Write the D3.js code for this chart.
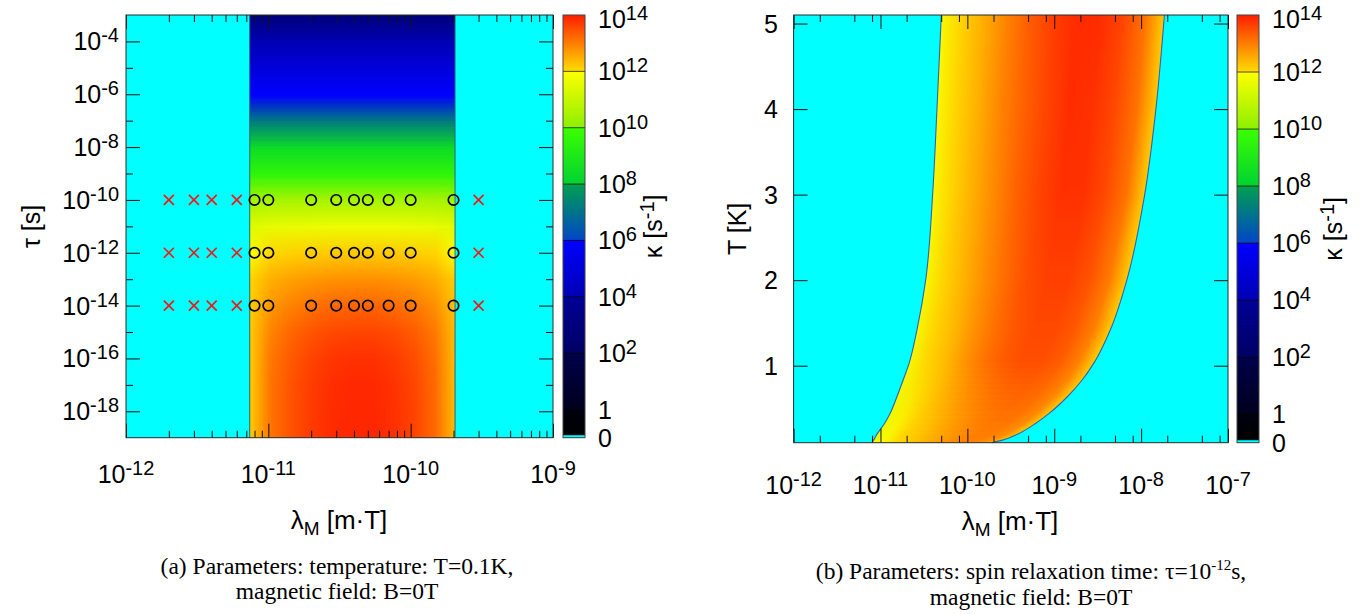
<!DOCTYPE html>
<html>
<head>
<meta charset="UTF-8">
<script src="https://cdn.jsdelivr.net/npm/d3@7/dist/d3.min.js"></script>
<style>
  body { margin: 0; background: #ffffff; }
  text { font-family: "Liberation Sans", Arial, sans-serif; fill: #000; }
  text.cap { font-family: "Liberation Serif", "Times New Roman", serif; }
</style>
</head>
<body>
<svg id="fig" width="1369" height="614"></svg>
<script>
// ---------- panel (a): T = 0.1 K, B = 0 T ----------
// rows: tau = 10^tauExpA (top to bottom), cols: position across the non-zero band (log lambda)
const tauExpA = [-3, -4, -5, -6, -7, -8, -9, -10, -11, -12, -13, -14, -15, -16, -17, -18, -19];
const bandColsA = [0, 0.1, 0.2, 0.3, 0.4, 0.5, 0.6, 0.7, 0.8, 0.9, 1];
const logKappaA = [
  [3.0, 3.0, 3.0, 3.0, 3.0, 3.0, 3.0, 3.0, 3.0, 3.0, 3.0],
  [4.0, 4.0, 4.0, 4.0, 4.0, 4.0, 4.0, 4.0, 4.0, 4.0, 4.0],
  [5.05, 5.05, 5.05, 5.05, 5.05, 5.05, 5.05, 5.05, 5.05, 5.05, 5.05],
  [5.95, 5.95, 5.95, 5.95, 5.95, 5.95, 5.95, 5.95, 5.95, 5.95, 5.95],
  [7.2, 7.2, 7.2, 7.2, 7.2, 7.2, 7.2, 7.2, 7.2, 7.2, 7.2],
  [8.45, 8.45, 8.45, 8.45, 8.45, 8.45, 8.45, 8.45, 8.45, 8.45, 8.45],
  [9.6, 9.6, 9.6, 9.6, 9.6, 9.6, 9.6, 9.6, 9.6, 9.6, 9.6],
  [10.45, 10.5, 10.5, 10.5, 10.5, 10.5, 10.5, 10.5, 10.5, 10.5, 10.45],
  [11.45, 11.6, 11.65, 11.68, 11.7, 11.7, 11.7, 11.7, 11.67, 11.6, 11.5],
  [11.9, 12.06, 12.12, 12.16, 12.19, 12.2, 12.2, 12.18, 12.15, 12.08, 11.95],
  [12.1, 12.47, 12.62, 12.72, 12.78, 12.8, 12.8, 12.76, 12.67, 12.51, 12.15],
  [12.15, 12.73, 12.96, 13.12, 13.22, 13.25, 13.25, 13.18, 13.05, 12.8, 12.25],
  [12.2, 12.94, 13.24, 13.43, 13.56, 13.6, 13.6, 13.52, 13.35, 13.03, 12.3],
  [12.2, 13.05, 13.38, 13.61, 13.75, 13.8, 13.8, 13.7, 13.51, 13.14, 12.3],
  [12.2, 13.09, 13.44, 13.68, 13.83, 13.88, 13.88, 13.78, 13.58, 13.19, 12.3],
  [12.2, 13.1, 13.45, 13.7, 13.85, 13.9, 13.9, 13.8, 13.6, 13.2, 12.3],
  [12.2, 13.1, 13.45, 13.7, 13.85, 13.9, 13.9, 13.8, 13.6, 13.2, 12.3]
];
const bandEdgesA = [7.4e-12, 2.05e-10];       // kappa = 0 outside
const markerTauA = [1e-10, 1e-12, 1e-14];
const crossLamA = [2e-12, 3e-12, 4e-12, 6e-12, 3e-10];
const circleLamA = [8e-12, 1e-11, 2e-11, 3e-11, 4e-11, 5e-11, 7e-11, 1e-10, 2e-10];
const xTicksA = [-12, -11, -10, -9];
const xMinorMultA = [2, 3, 4, 5, 6, 7, 8, 9];
const yTicksA = [-4, -6, -8, -10, -12, -14, -16, -18];
const yMinorA = [-5, -7, -9, -11, -13, -15, -17];

// ---------- panel (b): tau = 1e-12 s, B = 0 T ----------
// band edges (log10 lambda) against temperature
const tempEdgeB = [0.1, 0.13, 0.2, 0.33, 0.44, 0.64, 0.83, 1.03, 1.42, 2, 3, 4, 5.1];
const loEdgeB = [-11.10, -11.08, -11.04, -10.95, -10.89, -10.81, -10.74, -10.67, -10.58, -10.48, -10.40, -10.35, -10.30];
const hiEdgeB = [-9.72, -9.596, -9.423, -9.208, -9.062, -8.846, -8.681, -8.544, -8.354, -8.165, -7.959, -7.83, -7.732];
// rows: temperature (top to bottom), cols: position across the band
const tempRowsB = [5.1, 4.1, 3.1, 2.1, 1.1, 0.1];
const bandColsB = [0, 0.1, 0.2, 0.3, 0.4, 0.5, 0.6, 0.7, 0.8, 0.9, 1];
const logKappaB = [
  [11.9, 12.1, 12.5, 12.95, 13.35, 13.65, 13.85, 13.85, 13.6, 13.1, 12.0],
  [11.9, 12.1, 12.5, 12.95, 13.3, 13.6, 13.85, 13.8, 13.55, 13.1, 12.0],
  [11.9, 12.1, 12.5, 12.9, 13.3, 13.6, 13.8, 13.8, 13.55, 13.1, 12.0],
  [11.85, 12.1, 12.45, 12.85, 13.2, 13.5, 13.65, 13.65, 13.45, 13.0, 12.0],
  [11.8, 12.05, 12.35, 12.75, 13.1, 13.35, 13.5, 13.5, 13.35, 12.95, 12.0],
  [11.6, 11.9, 12.0, 12.15, 12.35, 12.55, 12.75, 12.9, 12.95, 12.8, 12.1]
];
const xTicksB = [-12, -11, -10, -9, -8, -7];
const xMinorMultB = [2, 5, 8];
const yTicksB = [1, 2, 3, 4, 5];

// ---------- colour bar (log10 kappa, -1 stands for the "0" end) ----------
const cbLo = [-1, 0, 2, 4, 6, 8, 10, 12];
const cbHi = [0, 2, 4, 6, 8, 10, 12, 14];
const cbColLo = ["#000000", "#00001e", "#000064", "#0000b4", "#0046c8", "#00d232", "#8cf000", "#ffdc00"];
const cbColHi = ["#000010", "#00004b", "#000096", "#0000ff", "#00a050", "#3cff00", "#ffff00", "#ff1e00"];
const cbTicks = [-1, 0, 2, 4, 6, 8, 10, 12, 14];

const FS = 25, SUP = 20;

const svg = d3.select("#fig");
const defs = svg.append("defs");

function kColor(v) {
  let i = d3.bisectRight(cbLo, v) - 1;
  i = Math.max(0, Math.min(cbLo.length - 1, i));
  const t = Math.max(0, Math.min(1, (v - cbLo[i]) / (cbHi[i] - cbLo[i])));
  return d3.interpolateRgb(cbColLo[i], cbColHi[i])(t);
}

// grid -> canvas, one pixel per value, then scaled with smoothing so nodes sit on the box corners
function smoothCanvas(grid, w, h) {
  const nr = grid.length, nc = grid[0].length;
  const src = document.createElement("canvas");
  src.width = nc; src.height = nr;
  const sctx = src.getContext("2d");
  grid.forEach((row, r) => row.forEach((v, k) => {
    sctx.fillStyle = kColor(v);
    sctx.fillRect(k, r, 1, 1);
  }));
  const c = document.createElement("canvas");
  c.width = w; c.height = h;
  const ctx = c.getContext("2d");
  ctx.imageSmoothingEnabled = true;
  const cw = w / (nc - 1), rh = h / (nr - 1);
  ctx.drawImage(src, -cw / 2, -rh / 2, nc * cw, nr * rh);
  return c;
}

function powLabel(g, x, y, e, anchor) {
  const t = g.append("text").attr("x", x).attr("y", y).attr("text-anchor", anchor).attr("font-size", FS);
  if (e === -1) t.text("0");
  else if (e === 0) t.text("1");
  else {
    t.append("tspan").text("10");
    t.append("tspan").attr("dy", -8).attr("font-size", SUP).text(e);
  }
  return t;
}

function tickSet(g, scale, orient, pos, vals, len) {
  const mk = {bottom: d3.axisBottom, top: d3.axisTop, left: d3.axisLeft, right: d3.axisRight}[orient];
  const ax = mk(scale).tickValues(vals).tickSize(-len).tickFormat("");
  const tr = (orient === "bottom" || orient === "top") ? `translate(0,${pos})` : `translate(${pos},0)`;
  const gg = g.append("g").attr("transform", tr).call(ax);
  gg.select(".domain").remove();
  gg.selectAll("line").attr("stroke", "#111").attr("stroke-width", 1);
}

// colour bar gradient
const grad = defs.append("linearGradient").attr("id", "cbGrad")
  .attr("x1", 0).attr("y1", 1).attr("x2", 0).attr("y2", 0);
cbLo.forEach((lo, i) => {
  grad.append("stop").attr("offset", (lo + 1) / 15).attr("stop-color", cbColLo[i]);
  grad.append("stop").attr("offset", (cbHi[i] + 1) / 15).attr("stop-color", cbColHi[i]);
});

function colourBar(x, top, bottom, labelX, titleX) {
  const g = svg.append("g");
  const cb = d3.scaleLinear().domain([-1, 14]).range([bottom, top]);
  g.append("rect").attr("x", x).attr("y", top).attr("width", 22).attr("height", bottom - top)
    .attr("fill", "url(#cbGrad)");
  g.append("rect").attr("x", x).attr("y", cb(-0.9)).attr("width", 22).attr("height", cb(-1) - cb(-0.9))
    .attr("fill", "#00ffff");
  [-0.9].concat(cbLo.slice(1)).forEach(v => {
    g.append("line").attr("x1", x).attr("x2", x + 22).attr("y1", cb(v)).attr("y2", cb(v))
      .attr("stroke", "#000").attr("stroke-opacity", 0.7);
  });
  g.append("rect").attr("x", x).attr("y", top).attr("width", 22).attr("height", bottom - top)
    .attr("fill", "none").attr("stroke", "#444");
  cbTicks.forEach(e => powLabel(g, labelX, Math.max(cb(e) + 9, 28), e, "start"));
  const t = g.append("text").attr("transform", `translate(${titleX},${(top + bottom) / 2}) rotate(-90)`)
    .attr("text-anchor", "middle").attr("font-size", 25);
  t.append("tspan").text("\u03ba [s");
  t.append("tspan").attr("dy", -8).attr("font-size", SUP).text("-1");
  t.append("tspan").attr("dy", 8).text("]");
}

function lambdaLabel(x, y) {
  const t = svg.append("text").attr("x", x).attr("y", y).attr("text-anchor", "middle").attr("font-size", 26);
  t.append("tspan").text("\u03bb");
  t.append("tspan").attr("dy", 6).attr("font-size", 19).text("M");
  t.append("tspan").attr("dy", -6).text(" [m\u00b7T]");
}

// ================= panel (a) =================
const A = {l: 126, r: 553, t: 15, b: 437.7};
const xA = d3.scaleLog().domain([1e-12, 1e-9]).range([A.l, A.r]);
const yA = d3.scaleLog().domain([1e-19, 1e-3]).range([A.b, A.t]);
const gA = svg.append("g");
gA.append("rect").attr("x", A.l).attr("y", A.t).attr("width", A.r - A.l).attr("height", A.b - A.t)
  .attr("fill", "#00ffff");
const bx0 = xA(bandEdgesA[0]), bx1 = xA(bandEdgesA[1]);
const yTopA = yA(10 ** tauExpA[0]), yBotA = yA(10 ** tauExpA[tauExpA.length - 1]);
const imgA = smoothCanvas(logKappaA, Math.round(bx1 - bx0), Math.round(yBotA - yTopA));
gA.append("image").attr("x", bx0).attr("y", yTopA)
  .attr("width", bx1 - bx0).attr("height", yBotA - yTopA)
  .attr("preserveAspectRatio", "none").attr("href", imgA.toDataURL());
bandEdgesA.forEach(l => {
  gA.append("line").attr("x1", xA(l)).attr("x2", xA(l)).attr("y1", A.t).attr("y2", A.b)
    .attr("stroke", "#2e6578").attr("stroke-width", 1);
});

// markers
markerTauA.forEach(tau => {
  crossLamA.forEach(l => {
    gA.append("path").attr("transform", `translate(${xA(l)},${yA(tau)})`)
      .attr("d", "M-5,-5L5,5M-5,5L5,-5").attr("stroke", "#f01818").attr("stroke-width", 1.6).attr("fill", "none");
  });
  circleLamA.forEach(l => {
    gA.append("circle").attr("cx", xA(l)).attr("cy", yA(tau)).attr("r", 5.2)
      .attr("fill", "none").attr("stroke", "#000").attr("stroke-width", 1.7);
  });
});

const majA = xTicksA.map(e => 10 ** e);
const minA = xTicksA.slice(0, -1).flatMap(e => xMinorMultA.map(m => m * 10 ** e));
tickSet(gA, xA, "bottom", A.b, majA, 14);
tickSet(gA, xA, "bottom", A.b, minA, 7);
tickSet(gA, xA, "top", A.t, majA, 14);
tickSet(gA, xA, "top", A.t, minA, 7);
tickSet(gA, yA, "left", A.l, yTicksA.map(e => 10 ** e), 14);
tickSet(gA, yA, "left", A.l, yMinorA.map(e => 10 ** e), 7);
tickSet(gA, yA, "right", A.r, yTicksA.map(e => 10 ** e), 14);
tickSet(gA, yA, "right", A.r, yMinorA.map(e => 10 ** e), 7);
gA.append("rect").attr("x", A.l).attr("y", A.t).attr("width", A.r - A.l).attr("height", A.b - A.t)
  .attr("fill", "none").attr("stroke", "#2b2b2b");

xTicksA.forEach(e => powLabel(gA, xA(10 ** e), 483, e, "middle"));
yTicksA.forEach(e => powLabel(gA, 119, yA(10 ** e) + 9, e, "end"));
svg.append("text").attr("transform", `translate(40,${(A.t + A.b) / 2}) rotate(-90)`)
  .attr("text-anchor", "middle").attr("font-size", 25).text("\u03c4 [s]");
lambdaLabel(339, 529);
colourBar(563, A.t, A.b, 598, 662);

// ================= panel (b) =================
const B = {l: 793.6, r: 1228, t: 15, b: 442.7};
const xB = d3.scaleLog().domain([1e-12, 1e-7]).range([B.l, B.r]);
const yB = d3.scaleLinear().domain([0.1, 5.1]).range([B.b, B.t]);
const gB = svg.append("g");
gB.append("rect").attr("x", B.l).attr("y", B.t).attr("width", B.r - B.l).attr("height", B.b - B.t)
  .attr("fill", "#00ffff");

const loAt = d3.scaleLinear().domain(tempEdgeB).range(loEdgeB).clamp(true);
const hiAt = d3.scaleLinear().domain(tempEdgeB).range(hiEdgeB).clamp(true);
const bw = Math.round(B.r - B.l), bh = Math.round(B.b - B.t);
const UW = 440;
const up = smoothCanvas(logKappaB, UW, Math.round(yB(tempRowsB[tempRowsB.length - 1]) - yB(tempRowsB[0])));
const cB = document.createElement("canvas");
cB.width = bw; cB.height = bh;
const ctxB = cB.getContext("2d");
ctxB.imageSmoothingEnabled = true;
for (let py = 0; py < bh; py++) {
  const T = yB.invert(B.t + py + 0.5);
  const xl = xB(10 ** loAt(T)) - B.l, xr = xB(10 ** hiAt(T)) - B.l;
  ctxB.drawImage(up, 0, Math.min(py, up.height - 1), UW, 1, xl - 3, py, xr - xl + 6, 1);
}
const areaB = d3.area().curve(d3.curveMonotoneY)
  .y((d, i) => yB(tempEdgeB[i]))
  .x0((d, i) => xB(10 ** loEdgeB[i]))
  .x1((d, i) => xB(10 ** hiEdgeB[i]));
defs.append("clipPath").attr("id", "bandB").append("path").attr("d", areaB(tempEdgeB));
gB.append("image").attr("x", B.l).attr("y", B.t).attr("width", bw).attr("height", bh)
  .attr("preserveAspectRatio", "none").attr("href", cB.toDataURL()).attr("clip-path", "url(#bandB)");
[loEdgeB, hiEdgeB].forEach(arr => {
  const ln = d3.line().curve(d3.curveMonotoneY)
    .x((d, i) => xB(10 ** arr[i])).y((d, i) => yB(tempEdgeB[i]));
  gB.append("path").attr("d", ln(tempEdgeB)).attr("fill", "none")
    .attr("stroke", "#2f62b0").attr("stroke-width", 1.1);
});

const majB = xTicksB.map(e => 10 ** e);
const minB = xTicksB.slice(0, -1).flatMap(e => xMinorMultB.map(m => m * 10 ** e));
tickSet(gB, xB, "bottom", B.b, majB, 14);
tickSet(gB, xB, "bottom", B.b, minB, 7);
tickSet(gB, xB, "top", B.t, majB, 14);
tickSet(gB, xB, "top", B.t, minB, 7);
tickSet(gB, yB, "left", B.l, yTicksB, 14);
tickSet(gB, yB, "right", B.r, yTicksB, 14);
gB.append("rect").attr("x", B.l).attr("y", B.t).attr("width", B.r - B.l).attr("height", B.b - B.t)
  .attr("fill", "none").attr("stroke", "#2b2b2b");

xTicksB.forEach(e => powLabel(gB, xB(10 ** e), 494, e, "middle"));
yTicksB.forEach(v => gB.append("text").attr("x", 778).attr("y", yB(v) + 9)
  .attr("text-anchor", "end").attr("font-size", FS).text(v));
svg.append("text").attr("transform", `translate(746,${(B.t + B.b) / 2}) rotate(-90)`)
  .attr("text-anchor", "middle").attr("font-size", 25).text("T [K]");
lambdaLabel(1010, 530);
colourBar(1237, B.t, B.b, 1272, 1342);

// ================= captions =================
function caption(x, y, parts) {
  const t = svg.append("text").attr("class", "cap").attr("x", x).attr("y", y)
    .attr("text-anchor", "middle").attr("font-size", 23.5);
  parts.forEach(p => {
    const s = t.append("tspan").text(p.s);
    if (p.dy) s.attr("dy", p.dy);
    if (p.fs) s.attr("font-size", p.fs);
  });
}
caption(337, 574, [{s: "(a) Parameters: temperature: T=0.1K,"}]);
caption(337, 599, [{s: "magnetic field: B=0T"}]);
caption(1031, 579, [{s: "(b) Parameters: spin relaxation time: \u03c4=10"}, {s: "-12", dy: -9, fs: 15}, {s: "s,", dy: 9}]);
caption(1031, 605, [{s: "magnetic field: B=0T"}]);
</script>
</body>
</html>
